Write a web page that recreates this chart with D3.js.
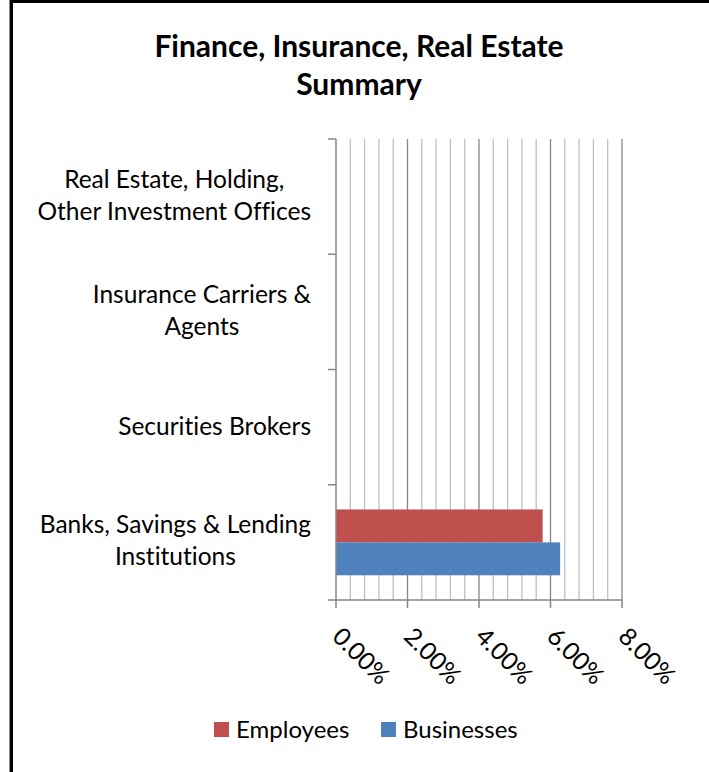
<!DOCTYPE html>
<html>
<head>
<meta charset="utf-8">
<script src="https://cdn.jsdelivr.net/npm/d3@7"></script>
<style>
  body { margin: 0; background: #fff; }
  svg { display: block; font-family: Lato, "Open Sans", sans-serif; font-variant-ligatures: none; }
</style>
</head>
<body>
<div id="chart"></div>
<script>
// categories, top to bottom as drawn
var categories = [
    "Real Estate, Holding,|Other Investment Offices",
    "Insurance Carriers &|Agents",
    "Securities Brokers",
    "Banks, Savings & Lending|Institutions"
];
var seriesNames = ["Employees", "Businesses"];
var seriesColors = ["#c0504d", "#4f81bd"];
var employeesValues = [0, 0, 0, 0.0578];
var businessesValues = [0, 0, 0, 0.0627];
var xTicks = [0, 0.02, 0.04, 0.06, 0.08];

var width = 709, height = 772;
var svg = d3.select("#chart").append("svg")
    .attr("width", width)
    .attr("height", height);

// chart frame (only top and left edges visible)
svg.append("rect").attr("x", 9).attr("y", 0).attr("width", width - 9).attr("height", 3).attr("fill", "#000");
svg.append("rect").attr("x", 9).attr("y", 0).attr("width", 1).attr("height", height).attr("fill", "#888");
svg.append("rect").attr("x", 10).attr("y", 0).attr("width", 3).attr("height", height).attr("fill", "#000");

// title
var title = svg.append("text")
    .attr("text-anchor", "middle")
    .attr("font-weight", "bold")
    .attr("font-size", 30)
    .attr("fill", "#000");
title.append("tspan").attr("x", 359).attr("y", 57).text("Finance, Insurance, Real Estate");
title.append("tspan").attr("x", 359).attr("y", 95).text("Summary");

// scales
var x = d3.scaleLinear().domain([0, 0.08]).range([336, 622]);
var y = d3.scaleBand().domain(categories).range([139, 600]);
var ySub = d3.scaleBand().domain(seriesNames)
    .range([0, y.bandwidth()])
    .paddingInner(0)
    .paddingOuter(0.75);

// gridlines: minor every 0.4%, major every 2%
var minorTicks = d3.range(0, 21).map(function(i) { return i * 0.004; });
svg.append("g").selectAll("line")
    .data(minorTicks.filter(function(d, i) { return i % 5 !== 0; }))
    .join("line")
    .attr("x1", function(d) { return x(d); })
    .attr("x2", function(d) { return x(d); })
    .attr("y1", 139).attr("y2", 600)
    .attr("stroke", "#bfbfbf").attr("stroke-width", 1.3);
svg.append("g").selectAll("line")
    .data(xTicks.slice(1))
    .join("line")
    .attr("x1", function(d) { return x(d); })
    .attr("x2", function(d) { return x(d); })
    .attr("y1", 139).attr("y2", 600)
    .attr("stroke", "#868686").attr("stroke-width", 1.3);

// bars
var rows = categories.map(function(c, i) {
    return { cat: c, values: [employeesValues[i], businessesValues[i]] };
});
var groups = svg.append("g").selectAll("g")
    .data(rows)
    .join("g")
    .attr("transform", function(d) { return "translate(0," + y(d.cat) + ")"; });
groups.selectAll("rect")
    .data(function(d) { return d.values.map(function(v, j) { return { name: seriesNames[j], value: v, color: seriesColors[j] }; }); })
    .join("rect")
    .attr("x", x(0))
    .attr("y", function(d) { return ySub(d.name); })
    .attr("width", function(d) { return x(d.value) - x(0); })
    .attr("height", ySub.bandwidth())
    .attr("fill", function(d) { return d.color; });

// y axis: line + ticks at category boundaries
var yAxisG = svg.append("g");
yAxisG.append("line")
    .attr("x1", 336).attr("x2", 336).attr("y1", 139).attr("y2", 600)
    .attr("stroke", "#868686").attr("stroke-width", 1.5);
var boundaries = categories.map(function(c) { return y(c); }).concat([600]);
yAxisG.selectAll("line.tick")
    .data(boundaries)
    .join("line")
    .attr("class", "tick")
    .attr("x1", 328).attr("x2", 336)
    .attr("y1", function(d) { return d; }).attr("y2", function(d) { return d; })
    .attr("stroke", "#868686").attr("stroke-width", 1.5);

// category labels
var labels = svg.append("g").selectAll("text")
    .data(categories)
    .join("text")
    .attr("text-anchor", "middle")
    .attr("font-size", 24.5)
    .attr("fill", "#000");
labels.each(function(c) {
    var parts = c.split("|");
    var cy = y(c) + y.bandwidth() / 2;
    var t = d3.select(this);
    if (parts.length === 1) {
        t.attr("text-anchor", "end");
        t.append("tspan").attr("x", 311).attr("y", cy + 8).text(parts[0]);
    } else {
        parts.forEach(function(p, k) {
            t.append("tspan").attr("x", 0).attr("y", cy - 9 + k * 32).text(p);
        });
        // lines centred on each other, widest line ends at 311
        var tspans = t.selectAll("tspan").nodes();
        var maxW = d3.max(tspans, function(n) { return n.getComputedTextLength(); });
        tspans.forEach(function(n) { d3.select(n).attr("x", 311 - maxW / 2); });
    }
});

// x axis
var xAxisG = svg.append("g").attr("transform", "translate(0,600)");
xAxisG.append("line")
    .attr("x1", 336).attr("x2", 622)
    .attr("stroke", "#868686").attr("stroke-width", 1.5);
xAxisG.selectAll("line.tick")
    .data(xTicks)
    .join("line")
    .attr("class", "tick")
    .attr("x1", function(d) { return x(d); }).attr("x2", function(d) { return x(d); })
    .attr("y1", 0).attr("y2", 8)
    .attr("stroke", "#868686").attr("stroke-width", 1.5);
xAxisG.selectAll("text")
    .data(xTicks)
    .join("text")
    .attr("transform", function(d) { return "translate(" + (x(d) - 5) + ",38) rotate(45)"; })
    .attr("font-size", 24.5)
    .attr("fill", "#000")
    .text(function(d) { return d3.format(".2%")(d); });

// legend
var legend = svg.append("g");
var legendItems = [
    { name: seriesNames[0], color: seriesColors[0], x: 214 },
    { name: seriesNames[1], color: seriesColors[1], x: 381 }
];
legendItems.forEach(function(d) {
    legend.append("rect").attr("x", d.x).attr("y", 722).attr("width", 15).attr("height", 15).attr("fill", d.color);
    legend.append("text").attr("x", d.x + 22).attr("y", 738)
        .attr("font-size", 24).attr("fill", "#000").text(d.name);
});
</script>
</body>
</html>
